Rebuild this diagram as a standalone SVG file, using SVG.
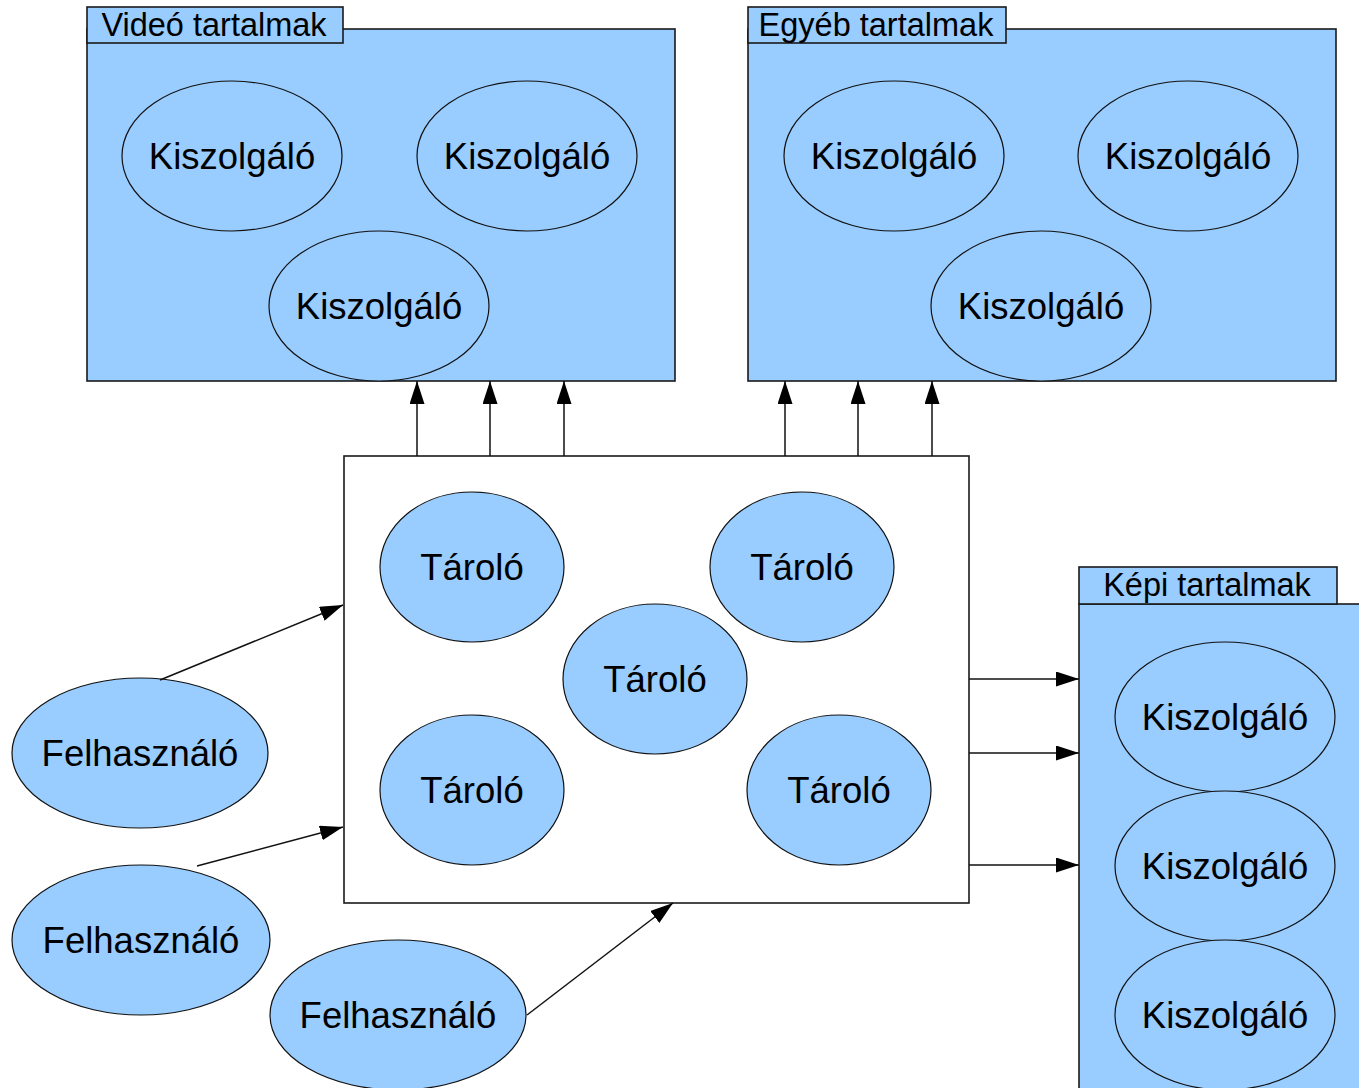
<svg xmlns="http://www.w3.org/2000/svg" width="1359" height="1088" viewBox="0 0 1359 1088">
<style>
.panel{fill:#99ccff;stroke:#1a1a1a;stroke-width:1.6}
.tab{fill:#99ccff;stroke:#1a1a1a;stroke-width:1.6}
.node{fill:#99ccff;stroke:#111;stroke-width:1.2}
.lbl{font-family:"Liberation Sans",Arial,sans-serif;font-size:36.5px;fill:#000;text-anchor:middle}
.tabt{font-family:"Liberation Sans",Arial,sans-serif;font-size:32.5px;fill:#000;text-anchor:middle}
.conn{stroke:#111;stroke-width:1.5;fill:none;marker-end:url(#ah)}
</style>
<defs>
<marker id="ah" viewBox="0 0 23 15" refX="23" refY="7.5" markerWidth="23" markerHeight="15" markerUnits="userSpaceOnUse" orient="auto">
<path d="M0,0 L23,7.5 L0,15 Z" fill="#000"/>
</marker>
</defs>
<rect width="1359" height="1088" fill="#fff"/>

<g id="video-panel">
<rect class="panel" x="87" y="29" width="588" height="352"/>
<rect class="tab" x="87" y="7" width="256" height="36"/>
<text class="tabt" x="214" y="36">Videó tartalmak</text>
</g>
<g id="egyeb-panel">
<rect class="panel" x="748" y="29" width="588" height="352"/>
<rect class="tab" x="748" y="7" width="258" height="36"/>
<text class="tabt" x="876" y="36">Egyéb tartalmak</text>
</g>
<g id="kepi-panel">
<rect class="panel" x="1079" y="604" width="300" height="500"/>
<rect class="tab" x="1079" y="567" width="258" height="37"/>
<text class="tabt" x="1207" y="596">Képi tartalmak</text>
</g>
<g id="tarolo-panel">
<rect x="344" y="456" width="625" height="447" fill="#fff" stroke="#1a1a1a" stroke-width="1.6"/>
</g>

<g id="v1"><ellipse class="node" cx="232" cy="156" rx="110" ry="75"/><text class="lbl" x="232" y="169">Kiszolgáló</text></g>
<g id="v2"><ellipse class="node" cx="527" cy="156" rx="110" ry="75"/><text class="lbl" x="527" y="169">Kiszolgáló</text></g>
<g id="v3"><ellipse class="node" cx="379" cy="306" rx="110" ry="75"/><text class="lbl" x="379" y="319">Kiszolgáló</text></g>

<g id="e1"><ellipse class="node" cx="894" cy="156" rx="110" ry="75"/><text class="lbl" x="894" y="169">Kiszolgáló</text></g>
<g id="e2"><ellipse class="node" cx="1188" cy="156" rx="110" ry="75"/><text class="lbl" x="1188" y="169">Kiszolgáló</text></g>
<g id="e3"><ellipse class="node" cx="1041" cy="306" rx="110" ry="75"/><text class="lbl" x="1041" y="319">Kiszolgáló</text></g>

<g id="k1"><ellipse class="node" cx="1225" cy="717" rx="110" ry="75"/><text class="lbl" x="1225" y="730">Kiszolgáló</text></g>
<g id="k2"><ellipse class="node" cx="1225" cy="866" rx="110" ry="75"/><text class="lbl" x="1225" y="879">Kiszolgáló</text></g>
<g id="k3"><ellipse class="node" cx="1225" cy="1015" rx="110" ry="75"/><text class="lbl" x="1225" y="1028">Kiszolgáló</text></g>

<g id="t1"><ellipse class="node" cx="472" cy="567" rx="92" ry="75"/><text class="lbl" x="472" y="580">Tároló</text></g>
<g id="t2"><ellipse class="node" cx="802" cy="567" rx="92" ry="75"/><text class="lbl" x="802" y="580">Tároló</text></g>
<g id="t3"><ellipse class="node" cx="655" cy="679" rx="92" ry="75"/><text class="lbl" x="655" y="692">Tároló</text></g>
<g id="t4"><ellipse class="node" cx="472" cy="790" rx="92" ry="75"/><text class="lbl" x="472" y="803">Tároló</text></g>
<g id="t5"><ellipse class="node" cx="839" cy="790" rx="92" ry="75"/><text class="lbl" x="839" y="803">Tároló</text></g>

<g id="f1"><ellipse class="node" cx="140" cy="753" rx="128" ry="75"/><text class="lbl" x="140" y="766">Felhasználó</text></g>
<g id="f2"><ellipse class="node" cx="141" cy="940" rx="129" ry="75"/><text class="lbl" x="141" y="953">Felhasználó</text></g>
<g id="f3"><ellipse class="node" cx="398" cy="1015" rx="128" ry="75"/><text class="lbl" x="398" y="1028">Felhasználó</text></g>

<g id="connectors">
<line class="conn" x1="417" y1="456" x2="417" y2="381"/>
<line class="conn" x1="490" y1="456" x2="490" y2="381"/>
<line class="conn" x1="564" y1="456" x2="564" y2="381"/>
<line class="conn" x1="785" y1="456" x2="785" y2="381"/>
<line class="conn" x1="858" y1="456" x2="858" y2="381"/>
<line class="conn" x1="932" y1="456" x2="932" y2="381"/>
<line class="conn" x1="969" y1="679" x2="1079" y2="679"/>
<line class="conn" x1="969" y1="753" x2="1079" y2="753"/>
<line class="conn" x1="969" y1="865" x2="1079" y2="865"/>
<line class="conn" x1="160" y1="680" x2="343" y2="605"/>
<line class="conn" x1="197" y1="866" x2="343" y2="827"/>
<line class="conn" x1="527" y1="1015" x2="673" y2="903"/>
</g>
</svg>
